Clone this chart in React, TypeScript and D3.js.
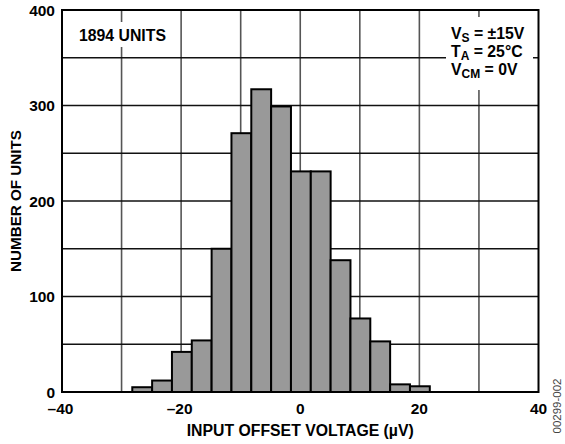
import React from "react";
import * as d3 from "d3";

const binStarts = [-28.2, -24.87, -21.54, -18.21, -14.88, -11.55, -8.22, -4.89, -1.56, 1.77, 5.1, 8.43, 11.76, 15.09, 18.42];
const binWidth = 3.33;
const counts = [5, 12, 42, 54, 150, 271, 317, 299, 231, 231, 138, 77, 53, 8, 6];
const xTicks = [-40, -20, 0, 20, 40];
const xGrid = [-30, -20, -10, 0, 10, 20, 30];
const yTicks = [0, 100, 200, 300, 400];
const yGrid = [50, 100, 150, 200, 250, 300, 350];

const W = 565, H = 444;
const L = 62, R = 538.5, T = 10, B = 392;
const font = "Liberation Sans, Arial, Helvetica, sans-serif";

export default function App() {
  const x = d3.scaleLinear().domain([-40, 40]).range([L, R]);
  const y = d3.scaleLinear().domain([0, 400]).range([B, T]);
  const fmt = (v: number) => (v < 0 ? "\u2013" + Math.abs(v) : String(v));
  return (
    <svg width={W} height={H} style={{ position: "absolute", left: 0, top: 0, background: "#fff" }} fontFamily={font}>
      <rect x={0} y={0} width={W} height={H} fill="#fff" />
      {xGrid.map((v) => (
        <line key={"xg" + v} x1={x(v)} x2={x(v)} y1={T} y2={B} stroke="#555" strokeWidth={1.6} />
      ))}
      {yGrid.map((v) => (
        <line key={"yg" + v} x1={L} x2={R} y1={y(v)} y2={y(v)} stroke="#111" strokeWidth={1.3} />
      ))}
      {counts.map((c, i) => (
        <rect
          key={"b" + i}
          x={x(binStarts[i])}
          y={y(c)}
          width={x(binStarts[i] + binWidth) - x(binStarts[i])}
          height={y(0) - y(c)}
          fill="#999999"
          stroke="#000"
          strokeWidth={2}
        />
      ))}
      {/* white label boxes */}
      <rect x={76} y={22} width={94} height={25} fill="#fff" />
      <rect x={446} y={17} width={87} height={73} fill="#fff" />
      <rect x={L} y={T} width={R - L} height={B - T} fill="none" stroke="#000" strokeWidth={2} />
      {yTicks.map((v) => (
        <text key={"yt" + v} x={55} y={y(v) + 5.5} textAnchor="end" fontSize={15.5} fontWeight="bold">
          {v}
        </text>
      ))}
      {xTicks.map((v) => (
        <text key={"xt" + v} x={x(v) + (v < 0 ? -1.5 : 0)} y={413.5} textAnchor="middle" fontSize={15.5} fontWeight="bold">
          {fmt(v)}
        </text>
      ))}
      <text x={(L + R) / 2} y={435.5} textAnchor="middle" fontSize={15.8} fontWeight="bold">
        INPUT OFFSET VOLTAGE (µV)
      </text>
      <text transform={`translate(21,${(T + B) / 2}) rotate(-90)`} textAnchor="middle" fontSize={15.2} fontWeight="bold">
        NUMBER OF UNITS
      </text>
      <text x={79} y={40.5} fontSize={15.8} fontWeight="bold">1894 UNITS</text>
      <g fontSize={15.8} fontWeight="bold">
        <text x={451} y={38.5}>
          V<tspan fontSize={12} dy={3}>S</tspan>
          <tspan dy={-3}> = ±15V</tspan>
        </text>
        <text x={451} y={56.5}>
          T<tspan fontSize={12} dy={3}>A</tspan>
          <tspan dy={-3}> = 25°C</tspan>
        </text>
        <text x={451} y={75}>
          V<tspan fontSize={12} dy={3}>CM</tspan>
          <tspan dy={-3}> = 0V</tspan>
        </text>
      </g>
      <text transform="translate(561,406) rotate(-90)" textAnchor="middle" fontSize={11.5} fill="#444">
        00299-002
      </text>
    </svg>
  );
}
